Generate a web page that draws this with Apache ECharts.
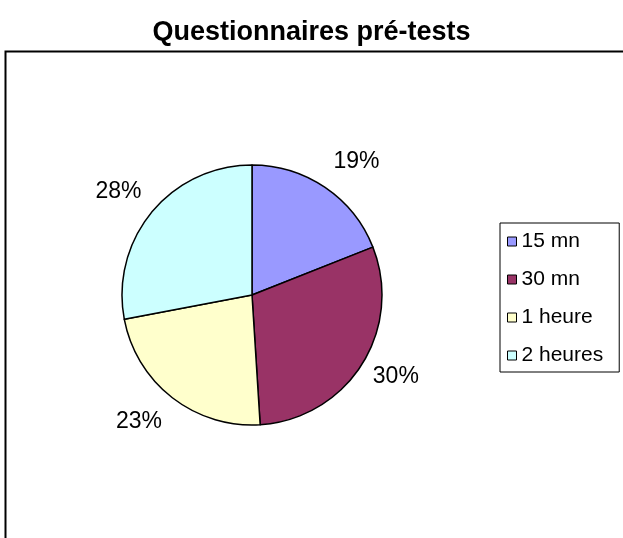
<!DOCTYPE html>
<html>
<head>
<meta charset="utf-8">
<script src="https://cdn.jsdelivr.net/npm/echarts@6/dist/echarts.min.js"></script>
<style>
  html, body { margin: 0; padding: 0; background: #fff; }
  #chart { width: 623px; height: 538px; }
</style>
</head>
<body>
<div id="chart"></div>
<script>
const categories = ["15 mn", "30 mn", "1 heure", "2 heures"];
const shares = [19, 30, 23, 28];
const colors = ["#9999FF", "#993366", "#FFFFCC", "#CCFFFF"];

// small nudges so the labels sit where the original chart put them
const LABEL_NUDGE = [[10, 6], [2, -8], [-10, -6], [-4, 4]];

const chart = echarts.init(document.getElementById("chart"));

chart.setOption({
  animation: false,
  backgroundColor: "#fff",
  title: {
    text: "Questionnaires pré-tests",
    left: "center",
    top: 14,
    textStyle: {
      fontFamily: "Liberation Sans, Arial, sans-serif",
      fontSize: 27,
      fontWeight: "bold",
      color: "#000",
    },
  },
  graphic: [
    {
      type: "rect",
      shape: { x: 5.5, y: 51.5, width: 700, height: 600 },
      style: { fill: "none", stroke: "#000", lineWidth: 2 },
      silent: true,
    },
  ],
  legend: {
    orient: "vertical",
    left: 500,
    top: 223,
    padding: [8, 16, 6, 7],
    itemGap: 17,
    itemWidth: 9,
    itemHeight: 9,
    icon: "rect",
    borderColor: "#000",
    borderWidth: 1,
    backgroundColor: "#fff",
    itemStyle: { borderColor: "#000", borderWidth: 1 },
    textStyle: {
      fontFamily: "Liberation Sans, Arial, sans-serif",
      fontSize: 21,
      color: "#000",
    },
    data: categories,
  },
  series: [
    {
      type: "pie",
      center: [252, 295],
      radius: [0, 130],
      startAngle: 90,
      clockwise: true,
      data: categories.map((name, i) => ({
        name,
        value: shares[i],
        itemStyle: { color: colors[i] },
      })),
      itemStyle: { borderColor: "#000", borderWidth: 1.5 },
      label: {
        show: true,
        position: "outside",
        formatter: "{c}%",
        distanceToLabelLine: 0,
        fontFamily: "Liberation Sans, Arial, sans-serif",
        fontSize: 23,
        color: "#000",
      },
      labelLine: { show: false, length: 38, length2: 0 },
      labelLayout: (p) => ({
        align: "center",
        verticalAlign: "middle",
        dx: LABEL_NUDGE[p.dataIndex][0],
        dy: LABEL_NUDGE[p.dataIndex][1],
      }),
      emphasis: { disabled: true },
    },
  ],
});
</script>
</body>
</html>
